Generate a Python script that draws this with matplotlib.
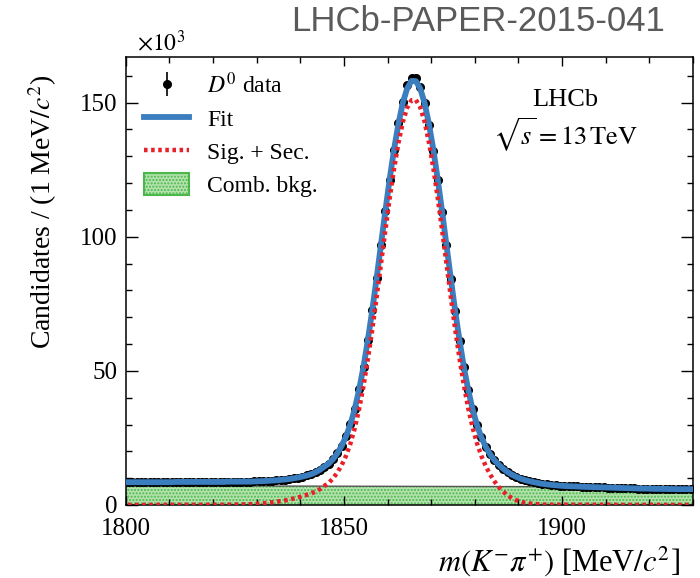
import numpy as np
import matplotlib
matplotlib.use("Agg")
import matplotlib.pyplot as plt
from matplotlib.ticker import MultipleLocator
from matplotlib.patches import Patch

plt.rcParams['font.family'] = ['Liberation Serif', 'DejaVu Serif']
plt.rcParams['mathtext.fontset'] = 'stix'

# bin centres, 1 MeV/c^2 bins
mass = np.arange(1800.5, 1930.0, 1.0)

# D0 candidates per bin (x10^3)
counts = [
    8.5, 8.5, 8.5, 8.5, 8.5, 8.5, 8.5, 8.5, 8.5, 8.5, 8.5,
    8.6, 8.6, 8.6, 8.6, 8.6, 8.6, 8.6, 8.6, 8.6, 8.6, 8.6, 8.6,
    8.7, 8.7, 8.7, 8.7, 8.7, 8.7, 8.8, 8.85, 8.9, 9.0, 9.1, 9.2,
    9.35, 9.5, 9.7, 9.95, 10.25, 10.6, 11.0, 11.5, 12.2, 13.1, 14.3,
    15.4, 17.1, 19.3, 22.1, 25.6, 30.1, 35.9, 43.1, 51.6, 61.6,
    72.6, 84.6, 97.1, 109.6, 121.2, 132.4, 142.3, 150.4, 156.6, 159.2,
    159.3, 156.0, 150.0, 141.7, 132.0, 121.2, 109.4, 96.9, 84.4, 72.3,
    61.3, 51.3, 42.8, 35.6, 29.8, 25.2, 21.7, 18.9, 16.7, 15.0,
    13.5, 12.3, 11.3, 10.5, 9.8, 9.3, 8.9, 8.5, 8.2, 7.9,
    7.7, 7.5, 7.35, 7.2, 7.1, 7.0, 6.95, 6.9, 6.8, 6.75,
    6.7, 6.65, 6.6, 6.55, 6.5, 6.45, 6.4, 6.35, 6.3, 6.25,
    6.2, 6.15, 6.1, 6.1, 6.05, 6.0, 6.0, 6.0, 5.95, 5.95,
    5.9, 5.9, 5.9, 5.9,
]

# total fit
fit = [
    8.5, 8.5, 8.5, 8.5, 8.5, 8.5, 8.5, 8.5, 8.5, 8.5, 8.5,
    8.6, 8.6, 8.6, 8.6, 8.6, 8.6, 8.6, 8.6, 8.6, 8.6, 8.6, 8.6,
    8.7, 8.7, 8.7, 8.7, 8.7, 8.7, 8.8, 8.85, 8.9, 9.0, 9.1, 9.2,
    9.35, 9.5, 9.7, 9.95, 10.25, 10.6, 11.0, 11.5, 12.2, 13.1, 14.3,
    15.4, 17.1, 19.3, 22.1, 25.6, 30.1, 35.9, 43.1, 51.6, 61.6,
    72.6, 84.6, 97.1, 109.6, 121.6, 132.6, 142.1, 149.9, 155.3, 158.1,
    158.0, 155.2, 149.8, 141.9, 132.4, 121.4, 109.4, 96.9, 84.4, 72.3,
    61.3, 51.3, 42.8, 35.6, 29.8, 25.2, 21.7, 18.9, 16.7, 15.0,
    13.5, 12.3, 11.3, 10.5, 9.8, 9.3, 8.9, 8.5, 8.2, 7.9,
    7.7, 7.5, 7.35, 7.2, 7.1, 7.0, 6.95, 6.9, 6.8, 6.75,
    6.7, 6.65, 6.6, 6.55, 6.5, 6.45, 6.4, 6.35, 6.3, 6.25,
    6.2, 6.15, 6.1, 6.1, 6.05, 6.0, 6.0, 6.0, 5.95, 5.95,
    5.9, 5.9, 5.9, 5.9,
]

# signal + secondary component
sig_sec = [
    0.05, 0.05, 0.05, 0.05, 0.05, 0.05, 0.05, 0.05, 0.05, 0.05,
    0.05, 0.05, 0.05, 0.05, 0.05, 0.05, 0.05, 0.05, 0.05, 0.05,
    0.08, 0.08, 0.1, 0.1, 0.12, 0.15, 0.2, 0.25, 0.3, 0.4,
    0.5, 0.65, 0.8, 1.0, 1.2, 1.45, 1.7, 2.0, 2.4, 2.8,
    3.3, 3.8, 4.3, 5.0, 5.9, 7.1, 8.2, 9.9, 12.1, 14.9,
    18.4, 22.9, 28.7, 35.9, 44.4, 54.4, 65.4, 77.4, 89.9, 102.4,
    114.4, 125.4, 134.9, 142.7, 148.1, 150.9,
    151.0, 148.2, 142.8, 135.0, 125.5, 114.5, 102.5, 90.0, 77.5, 65.5,
    54.5, 44.5, 36.0, 28.8, 23.0, 18.3, 14.5, 11.4, 8.8, 6.7,
    5.0, 3.6, 2.6, 1.8, 1.25, 0.85, 0.6, 0.4, 0.3, 0.2,
    0.1, 0.1, 0.1, 0.1, 0.1, 0.1, 0.1, 0.1, 0.1, 0.1,
    0.1, 0.1, 0.1, 0.1, 0.1, 0.05, 0.05, 0.05, 0.05, 0.05,
    0.05, 0.05, 0.05, 0.05, 0.05, 0.05, 0.05, 0.05, 0.05, 0.05,
    0.05, 0.05, 0.05, 0.05,
]

# combinatorial background (straight line)
comb_x = [1800, 1930]
comb_y = [7.2, 6.7]

counts = np.array(counts)
errors = np.sqrt(counts * 1e3) / 1e3

fig = plt.figure(figsize=(7.0, 5.78), dpi=100)
ax = fig.add_axes([0.1796, 0.1263, 0.8104, 0.7751])

green = '#4cb84c'
ax.fill_between(comb_x, 0, comb_y, facecolor='#b4e2ae', edgecolor=green,
                hatch='.....', linewidth=0, zorder=1)
ax.plot(comb_x, comb_y, color='#555555', lw=1.0, zorder=1.5)

data = ax.errorbar(mass, counts, yerr=errors, fmt='o', color='black', ms=5.5,
                   elinewidth=1.2, capsize=0, zorder=3)
fit_line, = ax.plot(mass, fit, color='#3a7ebf', lw=4.2, zorder=4)
sig_line, = ax.plot(mass, sig_sec, color='#e8202a', lw=3.2, ls=(0, (0.8, 0.8)),
                    zorder=5)

comb_patch = Patch(facecolor='#b4e2ae', edgecolor=green, hatch='.....', lw=1.5)

ax.legend([data, fit_line, sig_line, comb_patch],
          [r'$D^0$ data', 'Fit', 'Sig. + Sec.', 'Comb. bkg.'],
          loc='upper left', bbox_to_anchor=(0.033, 0.965), frameon=False,
          fontsize=17, handlelength=1.9, handleheight=1.05, handletextpad=0.75,
          labelspacing=0.38, borderpad=0, borderaxespad=0)

ax.text(0.775, 0.905, 'LHCb', transform=ax.transAxes, ha='center',
        va='center', fontsize=19)
ax.text(0.775, 0.826, r'$\sqrt{s} = 13\,\mathrm{TeV}$', transform=ax.transAxes,
        ha='center', va='center', fontsize=19)

ax.set_xlim(1800, 1930)
ax.set_ylim(0, 167)
ax.xaxis.set_major_locator(MultipleLocator(50))
ax.xaxis.set_minor_locator(MultipleLocator(10))
ax.yaxis.set_major_locator(MultipleLocator(50))
ax.yaxis.set_minor_locator(MultipleLocator(10))
ax.tick_params(which='both', direction='in', top=True, right=True,
               labelsize=18, width=1.0)
ax.tick_params(axis='x', which='major', length=6.5, pad=9.5)
ax.tick_params(axis='x', which='minor', length=4)
ax.tick_params(axis='y', which='major', length=8.5, pad=6)
ax.tick_params(axis='y', which='minor', length=4)
for s in ax.spines.values():
    s.set_linewidth(1.1)

ax.set_xlabel(r'$m(K^{-}\pi^{+})$ [MeV$/c^{2}$]', fontsize=22, loc='right')
ax.xaxis.set_label_coords(0.977, -0.088)
ax.set_ylabel(r'Candidates / (1 MeV$/c^{2}$)', fontsize=20)
ax.yaxis.set_label_coords(-0.118, 0.655)
ax.text(0.02, 1.003, r'$\times10^{3}$', transform=ax.transAxes, fontsize=17,
        ha='left', va='bottom')

fig.text(0.95, 0.962, 'LHCb-PAPER-2015-041', fontsize=25, color='#5a5a5a',
         family='Liberation Sans', ha='right', va='center')

fig.savefig('out.png', dpi=100)
